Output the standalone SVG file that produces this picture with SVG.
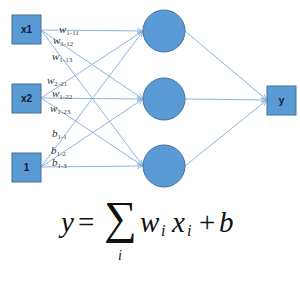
<svg xmlns="http://www.w3.org/2000/svg" width="300" height="300" viewBox="0 0 300 300">
<defs>
<marker id="arr" viewBox="0 0 10 10" refX="10" refY="5" markerWidth="6" markerHeight="6" orient="auto" markerUnits="userSpaceOnUse">
<path d="M0,1 L10,5 L0,9" fill="none" stroke="#8db3df" stroke-width="1.5"/>
</marker>
<style>
.box{fill:#5b9bd5;stroke:#41719c;stroke-width:1}
.node{fill:#5b9bd5;stroke:#41719c;stroke-width:1}
.lbl{font-family:"Liberation Sans",Arial,sans-serif;font-weight:bold;font-size:10px;fill:#0e1a33}
.edge{stroke:#8db3df;stroke-width:1;fill:none;marker-end:url(#arr)}
.w{font-family:"Liberation Serif","DejaVu Serif",serif;font-style:italic;font-size:11px;fill:#333}
.s{font-family:"Liberation Serif","DejaVu Serif",serif;font-style:normal;font-size:7px;fill:#444}
.f{font-family:"Liberation Serif","DejaVu Serif",serif;fill:#111}
.fi{font-family:"Liberation Serif","DejaVu Serif",serif;font-style:italic;fill:#111}
</style>
</defs>
<rect width="300" height="300" fill="#fff"/>
<g id="connectors">
<line class="edge" x1="41" y1="30" x2="143" y2="31"/>
<line class="edge" x1="41" y1="30" x2="143" y2="99"/>
<line class="edge" x1="41" y1="30" x2="143" y2="166"/>
<line class="edge" x1="41" y1="98" x2="143" y2="31"/>
<line class="edge" x1="41" y1="98" x2="143" y2="99"/>
<line class="edge" x1="41" y1="98" x2="143" y2="166"/>
<line class="edge" x1="41" y1="167" x2="143" y2="31"/>
<line class="edge" x1="41" y1="167" x2="143" y2="99"/>
<line class="edge" x1="41" y1="167" x2="143" y2="166"/>
<line class="edge" x1="185" y1="31" x2="267" y2="100"/>
<line class="edge" x1="185" y1="99" x2="267" y2="100"/>
<line class="edge" x1="185" y1="166" x2="267" y2="100"/>
</g>
<g id="labels">
<text class="w" x="59" y="33">w<tspan class="s" dy="2">1-11</tspan></text>
<text class="w" x="53" y="44">w<tspan class="s" dy="2">1-12</tspan></text>
<text class="w" x="52" y="60">w<tspan class="s" dy="2">1-13</tspan></text>
<text class="w" x="47" y="84">w<tspan class="s" dy="2">2-21</tspan></text>
<text class="w" x="52" y="97">w<tspan class="s" dy="2">1-22</tspan></text>
<text class="w" x="50" y="112">w<tspan class="s" dy="2">1-23</tspan></text>
<text class="w" x="52" y="137">b<tspan class="s" dy="2">1-1</tspan></text>
<text class="w" x="51" y="154">b<tspan class="s" dy="2">1-2</tspan></text>
<text class="w" x="52" y="166">b<tspan class="s" dy="2">1-3</tspan></text>
</g>
<g id="in-x1"><rect class="box" x="12" y="15" width="29" height="29"/><text class="lbl" x="26.5" y="33" text-anchor="middle">x1</text></g>
<g id="in-x2"><rect class="box" x="12" y="84" width="29" height="29"/><text class="lbl" x="26.5" y="102" text-anchor="middle">x2</text></g>
<g id="in-1"><rect class="box" x="12" y="153" width="29" height="29"/><text class="lbl" x="26.5" y="171" text-anchor="middle">1</text></g>
<g id="h1"><circle class="node" cx="164" cy="31" r="21"/></g>
<g id="h2"><circle class="node" cx="164" cy="99" r="21"/></g>
<g id="h3"><circle class="node" cx="164" cy="166" r="21"/></g>
<g id="out-y"><rect class="box" x="267" y="86" width="29" height="29"/><text class="lbl" x="281.5" y="104" text-anchor="middle">y</text></g>
<g id="formula">
<text class="fi" x="61" y="232" font-size="29">y</text>
<text class="f" x="78" y="232" font-size="29">=</text>
<text class="f" x="104" y="233" font-size="46">∑</text>
<text class="fi" x="118" y="260" font-size="14">i</text>
<text class="fi" x="140" y="232" font-size="29">w</text>
<text class="fi" x="161" y="236" font-size="16">i</text>
<text class="fi" x="172" y="232" font-size="29">x</text>
<text class="fi" x="187" y="236" font-size="16">i</text>
<text class="f" x="199" y="232" font-size="29">+</text>
<text class="fi" x="219" y="232" font-size="29">b</text>
</g>
</svg>
